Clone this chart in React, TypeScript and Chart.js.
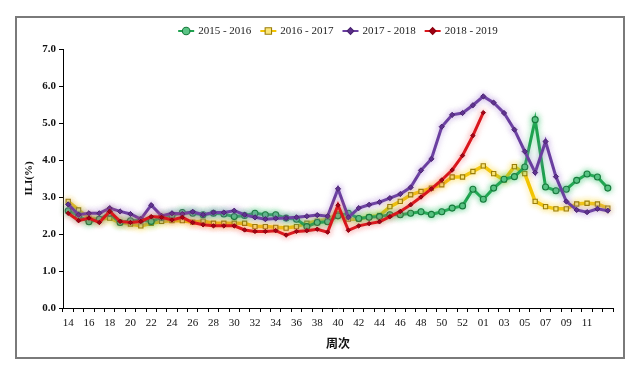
import React, { useEffect, useRef } from 'react';
import { Chart, registerables } from 'chart.js';

Chart.register(...registerables);

const weeks = [
  '14', '15', '16', '17', '18', '19', '20', '21', '22', '23',
  '24', '25', '26', '27', '28', '29', '30', '31', '32', '33',
  '34', '35', '36', '37', '38', '39', '40', '41', '42', '43',
  '44', '45', '46', '47', '48', '49', '50', '51', '52', '53',
  '01', '02', '03', '04', '05', '06', '07', '08', '09', '10',
  '11', '12', '13',
];

const xTickLabels = [
  '14', '16', '18', '20', '22', '24', '26', '28', '30', '32', '34', '36', '38',
  '40', '42', '44', '46', '48', '50', '52', '01', '03', '05', '07', '09', '11',
];

const yTicks = [0, 1, 2, 3, 4, 5, 6, 7];

const seriesNames = ['2015 - 2016', '2016 - 2017', '2017 - 2018', '2018 - 2019'];

const s2015 = [
  2.63, 2.49, 2.33, 2.40, 2.56, 2.31, 2.36, 2.38, 2.34, 2.45,
  2.50, 2.58, 2.56, 2.52, 2.56, 2.54, 2.47, 2.50, 2.56, 2.52,
  2.52, 2.43, 2.40, 2.20, 2.31, 2.33, 2.49, 2.56, 2.42, 2.45,
  2.47, 2.52, 2.52, 2.56, 2.60, 2.53, 2.60, 2.70, 2.76, 3.21,
  2.94, 3.24, 3.48, 3.55, 3.81, 5.09, 3.27, 3.17, 3.21, 3.45,
  3.62, 3.54, 3.24,
];

const s2016 = [
  2.88, 2.65, 2.43, 2.40, 2.43, 2.31, 2.27, 2.22, 2.29, 2.34,
  2.36, 2.36, 2.32, 2.35, 2.29, 2.29, 2.29, 2.29, 2.20, 2.20,
  2.18, 2.16, 2.20, 2.29, 2.35, 2.40, 2.55, 2.40, 2.40, 2.47,
  2.50, 2.74, 2.88, 3.06, 3.15, 3.24, 3.33, 3.54, 3.54, 3.69,
  3.84, 3.63, 3.46, 3.82, 3.63, 2.88, 2.74, 2.68, 2.68, 2.81,
  2.83, 2.81, 2.70,
];

const s2017 = [
  2.80, 2.52, 2.56, 2.56, 2.70, 2.61, 2.54, 2.40, 2.78, 2.49,
  2.56, 2.54, 2.60, 2.52, 2.58, 2.58, 2.63, 2.52, 2.45, 2.40,
  2.42, 2.43, 2.45, 2.48, 2.51, 2.48, 3.22, 2.45, 2.70, 2.79,
  2.86, 2.97, 3.08, 3.26, 3.72, 4.03, 4.90, 5.22, 5.27, 5.48,
  5.72, 5.55, 5.27, 4.82, 4.23, 3.66, 4.50, 3.55, 2.88, 2.65,
  2.59, 2.68, 2.63,
];

const s2018 = [
  2.56, 2.36, 2.43, 2.31, 2.61, 2.34, 2.31, 2.34, 2.47, 2.45,
  2.38, 2.45, 2.31, 2.25, 2.22, 2.22, 2.22, 2.11, 2.07, 2.07,
  2.09, 1.97, 2.07, 2.09, 2.13, 2.05, 2.78, 2.10, 2.22, 2.28,
  2.33, 2.47, 2.61, 2.79, 3.00, 3.22, 3.46, 3.73, 4.12, 4.66,
  5.28, null, null, null, null, null, null, null, null, null,
  null, null, null,
];

const SERIF = '"Liberation Serif", "Times New Roman", "Noto Sans CJK SC", serif';

function drawMarker(ctx: CanvasRenderingContext2D, style: string, x: number, y: number, r: number, fill: string, stroke: string) {
  ctx.save();
  ctx.beginPath();
  if (style === 'circle') {
    ctx.arc(x, y, r, 0, Math.PI * 2);
  } else if (style === 'rect') {
    ctx.rect(x - r, y - r, 2 * r, 2 * r);
  } else {
    ctx.moveTo(x, y - r * 1.3);
    ctx.lineTo(x + r * 1.3, y);
    ctx.lineTo(x, y + r * 1.3);
    ctx.lineTo(x - r * 1.3, y);
    ctx.closePath();
  }
  ctx.fillStyle = fill;
  ctx.fill();
  ctx.lineWidth = 1.1;
  ctx.strokeStyle = stroke;
  ctx.stroke();
  ctx.restore();
}

const glowPlugin = {
  id: 'glow',
  beforeDatasetDraw(chart: any, args: any) {
    const ds = chart.data.datasets[args.index];
    const ctx = chart.ctx;
    ctx.save();
    ctx.shadowColor = ds.glowColor;
    ctx.shadowBlur = 6;
  },
  afterDatasetDraw(chart: any) {
    chart.ctx.restore();
  },
};

const legendPlugin = {
  id: 'customLegend',
  afterDraw(chart: any) {
    const ctx: CanvasRenderingContext2D = chart.ctx;
    const { left, right } = chart.chartArea;
    ctx.save();
    ctx.font = '11px ' + SERIF;
    const lineLen = 16;
    const gap = 4;
    const itemGap = 9;
    const dss = chart.data.datasets;
    const widths = dss.map((d: any) => ctx.measureText(d.label).width);
    const total = widths.reduce((a: number, w: number) => a + lineLen + gap + w, 0) + itemGap * (dss.length - 1);
    let x = (left + right) / 2 - total / 2;
    const y = 31;
    dss.forEach((ds: any, i: number) => {
      ctx.strokeStyle = ds.borderColor;
      ctx.lineWidth = 2;
      ctx.beginPath();
      ctx.moveTo(x, y);
      ctx.lineTo(x + lineLen, y);
      ctx.stroke();
      drawMarker(ctx, ds.pointStyle, x + lineLen / 2, y, ds.legendRadius, ds.pointBackgroundColor, ds.pointBorderColor);
      ctx.fillStyle = '#222';
      ctx.textBaseline = 'middle';
      ctx.textAlign = 'left';
      ctx.fillText(ds.label, x + lineLen + gap, y + 0.5);
      x += lineLen + gap + widths[i] + itemGap;
    });
    ctx.restore();
  },
};

export default function App() {
  const ref = useRef<HTMLCanvasElement | null>(null);

  useEffect(() => {
    if (!ref.current) return;
    const chart = new Chart(ref.current, {
      type: 'line',
      data: {
        labels: weeks,
        datasets: [
          {
            label: seriesNames[0],
            data: s2015,
            borderColor: '#1fa24f',
            borderWidth: 3,
            pointStyle: 'circle',
            pointRadius: 3,
            pointBackgroundColor: '#5cc486',
            pointBorderColor: '#187a3c',
            pointBorderWidth: 1.1,
            tension: 0,
            order: 2,
            legendRadius: 3.8,
            glowColor: 'rgba(70,200,120,0.7)',
          } as any,
          {
            label: seriesNames[1],
            data: s2016,
            borderColor: '#f2c400',
            borderWidth: 3.5,
            pointStyle: 'rect',
            pointRadius: 3,
            pointBackgroundColor: '#fbe67a',
            pointBorderColor: '#9a7d0a',
            pointBorderWidth: 1.1,
            tension: 0,
            order: 3,
            legendRadius: 3.2,
            glowColor: 'rgba(250,220,90,0.8)',
          } as any,
          {
            label: seriesNames[2],
            data: s2017,
            borderColor: '#6a3fa0',
            borderWidth: 3,
            pointStyle: 'rectRot',
            pointRadius: 2.6,
            pointBackgroundColor: '#5b2e8c',
            pointBorderColor: '#4a2470',
            pointBorderWidth: 1,
            tension: 0,
            order: 1,
            legendRadius: 2.6,
            glowColor: 'rgba(160,120,210,0.6)',
          } as any,
          {
            label: seriesNames[3],
            data: s2018,
            borderColor: '#d9161c',
            borderWidth: 3,
            pointStyle: 'rectRot',
            pointRadius: 2.2,
            pointBackgroundColor: '#a00012',
            pointBorderColor: '#8b0010',
            pointBorderWidth: 1,
            tension: 0,
            order: 0,
            spanGaps: false,
            legendRadius: 2.6,
            glowColor: 'rgba(240,90,90,0.6)',
          } as any,
        ],
      },
      options: {
        animation: false,
        responsive: false,
        layout: { padding: { left: 16, right: 27, top: 49, bottom: 14 } },
        plugins: {
          legend: { display: false },
          tooltip: { enabled: false },
        },
        scales: {
          x: {
            type: 'category',
            offset: true,
            afterFit: (s: any) => { s.height = 49; },
            grid: {
              display: true,
              drawOnChartArea: false,
              drawTicks: true,
              tickLength: 4,
              offset: true,
              color: '#000',
            },
            border: { display: true, color: '#000', width: 1 },
            ticks: {
              autoSkip: false,
              maxRotation: 0,
              minRotation: 0,
              padding: 5,
              color: '#111',
              font: { family: SERIF, size: 11 },
              callback: (_v: any, idx: number) => (xTickLabels.includes(weeks[idx]) ? weeks[idx] : ''),
            },
            title: {
              display: true,
              text: '周次',
              color: '#111',
              font: { family: SERIF, size: 12, weight: 'bold' },
              padding: { top: 0, bottom: 5 },
            },
          },
          y: {
            min: yTicks[0],
            max: yTicks[yTicks.length - 1],
            afterFit: (s: any) => { s.width = 47; },
            grid: {
              display: true,
              drawOnChartArea: false,
              drawTicks: true,
              tickLength: 4,
              color: '#000',
            },
            border: { display: true, color: '#000', width: 1 },
            ticks: {
              stepSize: 1,
              padding: 3,
              color: '#111',
              font: { family: SERIF, size: 11, weight: 'bold' },
              callback: (v: any) => Number(v).toFixed(1),
            },
            title: {
              display: true,
              text: 'ILI(%)',
              color: '#111',
              font: { family: SERIF, size: 11, weight: 'bold' },
              padding: { top: 7, bottom: 0 },
            },
          },
        },
      } as any,
      plugins: [glowPlugin, legendPlugin],
    });
    return () => chart.destroy();
  }, []);

  return (
    <div style={{ position: 'absolute', left: 0, top: 0, width: 640, height: 371, background: '#fff' }}>
      <canvas ref={ref} width={640} height={371} style={{ position: 'absolute', left: 0, top: 0 }} />
      <div
        style={{
          position: 'absolute',
          left: 15,
          top: 16,
          width: 606,
          height: 339,
          border: '2px solid #7a7a7a',
          pointerEvents: 'none',
        }}
      />
    </div>
  );
}
